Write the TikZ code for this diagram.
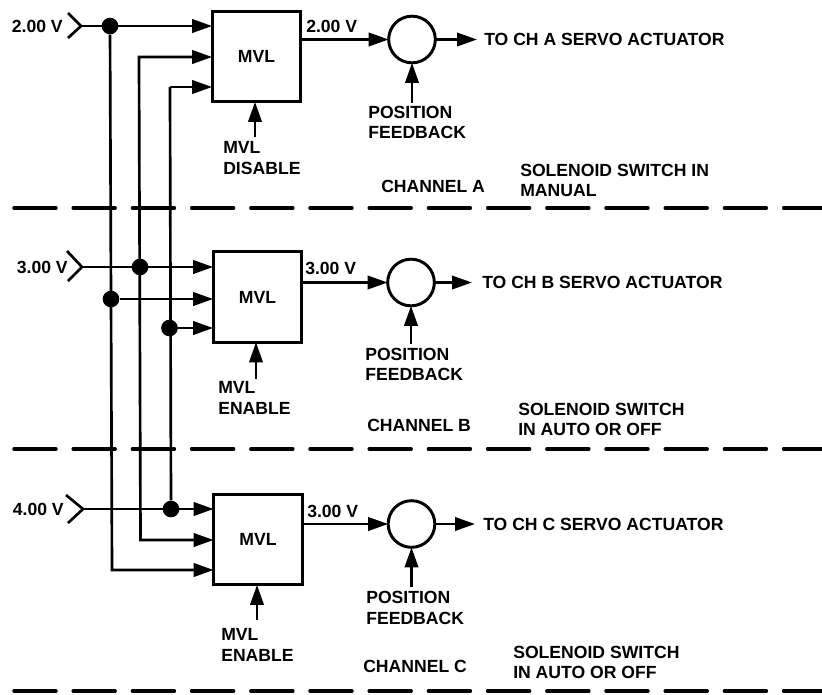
\documentclass[tikz,border=0pt]{standalone}
\usepackage{fontspec}
\setmainfont{Liberation Sans}
\usetikzlibrary{arrows.meta, positioning}

\begin{document}
\begin{tikzpicture}[
    x=0.75pt, y=-0.75pt,
    mvlblock/.style={rectangle, draw=black, fill=white, line width=2.2pt, outer sep=0pt, minimum width=66.5pt, minimum height=68pt, inner sep=0pt, font=\fontsize{13.2}{15.5}\bfseries\selectfont},
    summer/.style={circle, draw=black, fill=white, line width=2.2pt, outer sep=0pt, minimum size=35pt, inner sep=0pt},
    txt/.style={inner sep=0pt, align=left, font=\fontsize{13.2}{15.5}\bfseries\selectfont},
    jdot/.style={circle, fill=black, minimum size=12.5pt, inner sep=0pt},
    arrow/.style={-{Triangle[length=15pt, width=10pt]}, line width=2pt},
    busarrow/.style={{Triangle[length=15pt, width=10pt]}-{Triangle[length=15pt, width=10pt]}, line width=2pt},
    wire/.style={line width=2pt},
    sep/.style={line width=2.6pt, dash pattern=on 31.5pt off 12.9pt, line cap=round},
]
\useasboundingbox (0,0) rectangle (822,694);

% Channel A
\node[mvlblock] (mvla) at (256.5,56.5) {MVL};
\node[summer] (suma) at (412,39.5) {};
\coordinate (ina) at (81,26);
\coordinate (busb) at (139,57);
\coordinate (busc) at (170,87);
\coordinate (fba) at (412,103);
\coordinate (ena) at (255,137);
\coordinate (enda) at (477,39.5);
\node[jdot] (ja) at (110,26) {};
\node[txt, anchor=east] (va) at (63,26.5) {2.00 V};
\node[txt, anchor=west] (oa) at (306,26) {2.00 V};
\node[txt, anchor=west] (servoa) at (484,39.5) {TO CH A SERVO ACTUATOR};
\node[txt, anchor=north west] (posa) at (368,105.5) {POSITION\\FEEDBACK};
\node[txt, anchor=north west] (disa) at (223,141.5) {MVL\\DISABLE};
\node[txt, anchor=west] (cha) at (381,186) {CHANNEL A};
\node[txt, anchor=north west] (swa) at (520,163.5) {SOLENOID SWITCH IN\\MANUAL};

% Channel B
\node[mvlblock] (mvlb) at (257.5,297) {MVL};
\node[summer] (sumb) at (411,282.5) {};
\coordinate (inb) at (82,267);
\coordinate (fbb) at (411,344);
\coordinate (enb) at (256,379);
\coordinate (endb) at (472,282.5);
\node[jdot] (jb) at (140,267) {};
\node[jdot] (jbb) at (111,299) {};
\node[jdot] (jbc) at (169.5,328) {};
\node[txt, anchor=east] (vb) at (68,267) {3.00 V};
\node[txt, anchor=west] (ob) at (305,268) {3.00 V};
\node[txt, anchor=west] (servob) at (482,282.5) {TO CH B SERVO ACTUATOR};
\node[txt, anchor=north west] (posb) at (365,347.5) {POSITION\\FEEDBACK};
\node[txt, anchor=north west] (enlb) at (218,381.5) {MVL\\ENABLE};
\node[txt, anchor=west] (chb) at (367,425) {CHANNEL B};
\node[txt, anchor=north west] (swb) at (518,402.5) {SOLENOID SWITCH\\IN AUTO OR OFF};

% Channel C
\node[mvlblock] (mvlc) at (258,539.5) {MVL};
\node[summer] (sumc) at (411.5,524) {};
\coordinate (inc) at (83,509);
\coordinate (busbb) at (140.5,540);
\coordinate (busaa) at (112,570);
\coordinate (fbc) at (411.5,587);
\coordinate (enc) at (257,620);
\coordinate (endc) at (475,524);
\node[jdot] (jc) at (171,509) {};
\node[txt, anchor=east] (vc) at (64,509) {4.00 V};
\node[txt, anchor=west] (oc) at (307,511) {3.00 V};
\node[txt, anchor=west] (servoc) at (483,524) {TO CH C SERVO ACTUATOR};
\node[txt, anchor=north west] (posc) at (366,591) {POSITION\\FEEDBACK};
\node[txt, anchor=north west] (enlc) at (221,628.5) {MVL\\ENABLE};
\node[txt, anchor=west] (chc) at (363,666) {CHANNEL C};
\node[txt, anchor=north west] (swc) at (513,645.5) {SOLENOID SWITCH\\IN AUTO OR OFF};

% Separators
\coordinate (sepa) at (14,208);
\coordinate (sepb) at (14,449);
\coordinate (sepc) at (14,691);
\draw[sep] (sepa) -- (822,208);
\draw[sep] (sepb) -- (822,449);
\draw[sep] (sepc) -- (822,691);

% Buses
\draw[arrow] (ja) -- (busaa) -- (busaa -| mvlc.west);
\draw[busarrow] (busb -| mvla.west) -- (busb) -- (busbb) -- (busbb -| mvlc.west);
\draw[wire] (jc) -- (busc);
\draw[arrow] (busc) -- (busc -| mvla.west);

% Inputs
\draw[wire] (68,13) -- (ina) -- (68,38);
\draw[wire] (67,251) -- (inb) -- (68,281);
\draw[wire] (66,495) -- (inc) -- (68,523);
\draw[arrow] (ina) -- (ina -| mvla.west);
\draw[arrow] (inb) -- (inb -| mvlb.west);
\draw[arrow] (jbb) -- (jbb -| mvlb.west);
\draw[arrow] (jbc) -- (jbc -| mvlb.west);
\draw[arrow] (inc) -- (inc -| mvlc.west);

% Outputs
\draw[arrow] (suma -| mvla.east) -- (suma);
\draw[arrow] (sumb -| mvlb.east) -- (sumb);
\draw[arrow] (sumc -| mvlc.east) -- (sumc);
\draw[arrow] (suma) -- (enda);
\draw[arrow] (sumb) -- (endb);
\draw[arrow] (sumc) -- (endc);

% Feedback and enables
\draw[arrow] (fba) -- (suma);
\draw[arrow] (fbb) -- (sumb);
\draw[arrow] (fbc) -- (sumc);
\draw[arrow] (ena) -- (ena |- mvla.south);
\draw[arrow] (enb) -- (enb |- mvlb.south);
\draw[arrow] (enc) -- (enc |- mvlc.south);
\end{tikzpicture}
\end{document}
